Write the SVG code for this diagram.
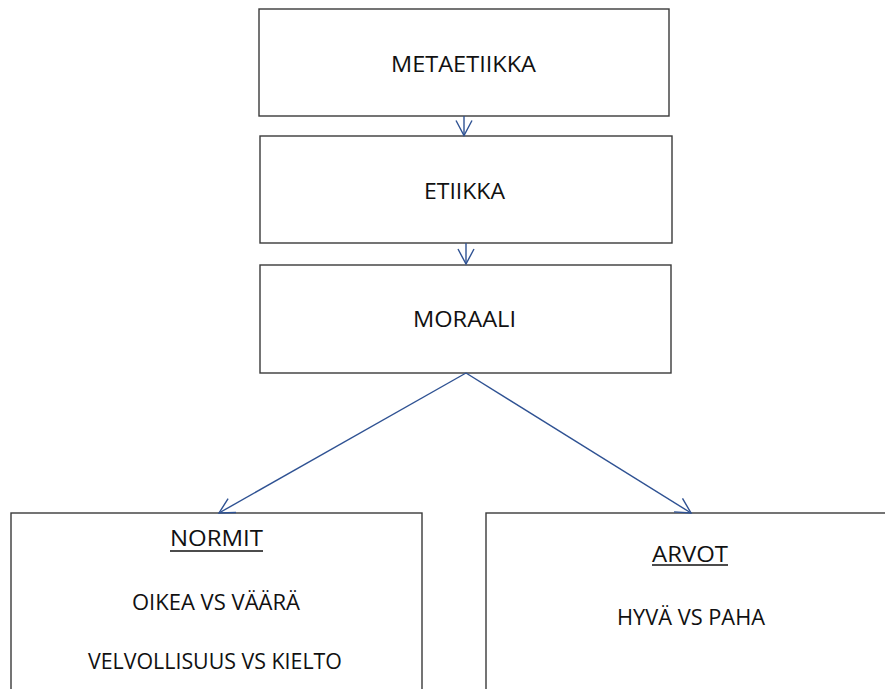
<svg xmlns="http://www.w3.org/2000/svg" width="885" height="689" viewBox="0 0 885 689">
<style>
.box{fill:#fff;stroke:#3a3a3a;stroke-width:1.4}
.t{font-family:"Open Sans","Liberation Sans",sans-serif;font-size:21px;fill:#111;text-anchor:middle}
.c{fill:none;stroke:#2f5293;stroke-width:1.4}
.u{stroke:#111;stroke-width:1.5}
</style>
<defs>
<marker id="ah" markerUnits="userSpaceOnUse" viewBox="-18 -10 20 20" refX="0" refY="0" markerWidth="20" markerHeight="20" orient="auto">
<path d="M-15,-8 L0,0 L-15,8" fill="none" stroke="#2f5293" stroke-width="1.4"/>
</marker>
</defs>
<g id="n-metaetiikka">
<rect class="box" x="259" y="9" width="410" height="107"/>
<text class="t" x="463.5" y="72" textLength="145" lengthAdjust="spacingAndGlyphs">METAETIIKKA</text>
</g>
<g id="n-etiikka">
<rect class="box" x="260" y="136" width="412" height="107"/>
<text class="t" x="464.5" y="199" textLength="81" lengthAdjust="spacingAndGlyphs">ETIIKKA</text>
</g>
<g id="n-moraali">
<rect class="box" x="260" y="265" width="411" height="108"/>
<text class="t" x="464.5" y="327" textLength="103" lengthAdjust="spacingAndGlyphs">MORAALI</text>
</g>
<g id="n-normit">
<rect class="box" x="11" y="513" width="411" height="200"/>
<text class="t" x="216.5" y="546" textLength="93" lengthAdjust="spacingAndGlyphs">NORMIT</text>
<line class="u" x1="170" y1="551" x2="263" y2="551"/>
<text class="t" x="216" y="610" textLength="168" lengthAdjust="spacingAndGlyphs">OIKEA VS VÄÄRÄ</text>
<text class="t" x="215" y="669" textLength="254" lengthAdjust="spacingAndGlyphs">VELVOLLISUUS VS KIELTO</text>
</g>
<g id="n-arvot">
<rect class="box" x="486" y="513" width="410" height="200"/>
<text class="t" x="690" y="562" textLength="76" lengthAdjust="spacingAndGlyphs">ARVOT</text>
<line class="u" x1="652" y1="565" x2="728" y2="565"/>
<text class="t" x="691" y="625" textLength="148" lengthAdjust="spacingAndGlyphs">HYVÄ VS PAHA</text>
</g>
<g id="connectors">
<line class="c" x1="464" y1="116" x2="464" y2="135.5" marker-end="url(#ah)"/>
<line class="c" x1="466" y1="243" x2="466" y2="264" marker-end="url(#ah)"/>
<line class="c" x1="466" y1="373" x2="219" y2="513" marker-end="url(#ah)"/>
<line class="c" x1="466" y1="373" x2="691" y2="513" marker-end="url(#ah)"/>
</g>
</svg>
